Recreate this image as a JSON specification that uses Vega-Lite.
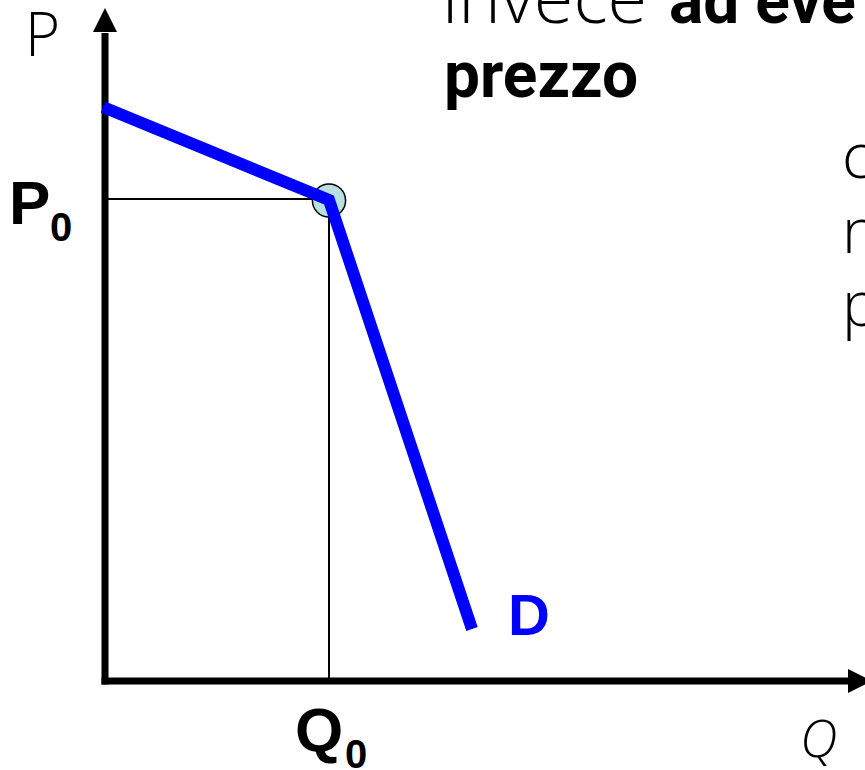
{
  "$schema": "https://vega.github.io/schema/vega-lite/v6.json",
  "width": 865,
  "height": 770,
  "autosize": {"type": "none"},
  "padding": 0,
  "background": "white",
  "config": {"view": {"stroke": null}},
  "datasets": {
    "demand": [
      {"step": 1, "q": -0.2, "p": 57.4},
      {"step": 2, "q": 22.4, "p": 48.1},
      {"step": 3, "q": 36.7, "p": 5.2}
    ],
    "guides": [
      {"q": 0, "p": 48.2, "q2": 22.4, "p2": 48.2},
      {"q": 22.4, "p": 0, "q2": 22.4, "p2": 48.2}
    ],
    "axes": [
      {"q": -0.35, "p": 0, "q2": 74.5, "p2": 0},
      {"q": 0, "p": -0.35, "q2": 0, "p2": 64.8}
    ],
    "yArrow": [{"q": 0, "p": 66.1}],
    "xArrow": [{"q": 75.5, "p": 0}],
    "equilibrium": [{"q": 22.4, "p": 48.05}],
    "labels": [
      {"text": "P", "q": -8.0, "p": 62.5, "role": "axisName"},
      {"text": "Q", "q": 69.5, "p": -7.6, "role": "axisNameItalic"},
      {"text": "P", "q": -9.6, "p": 45.7, "role": "eq"},
      {"text": "Q", "q": 19.0, "p": -7.0, "role": "eq"},
      {"text": "0", "q": -5.5, "p": 44.0, "role": "sub"},
      {"text": "0", "q": 24.0, "p": -8.7, "role": "sub"},
      {"text": "D", "q": 40.3, "p": 4.6, "role": "curve"},
      {"text": "invece", "q": 33.7, "p": 65.8, "role": "body"},
      {"text": "ad eve", "q": 56.4, "p": 65.8, "role": "bodyBold"},
      {"text": "prezzo", "q": 33.9, "p": 58.4, "role": "bodyBold"},
      {"text": "c", "q": 73.7, "p": 50.3, "role": "side"},
      {"text": "n", "q": 73.7, "p": 42.8, "role": "side"},
      {"text": "p", "q": 73.7, "p": 35.5, "role": "side"}
    ]
  },
  "encoding": {
    "x": {"field": "q", "type": "quantitative", "scale": {"domain": [-10.5, 76], "nice": false, "zero": false}, "axis": null},
    "y": {"field": "p", "type": "quantitative", "scale": {"domain": [-8.9, 68.1], "nice": false, "zero": false}, "axis": null}
  },
  "layer": [
    {
      "data": {"name": "guides"},
      "mark": {"type": "rule", "color": "black", "strokeWidth": 2},
      "encoding": {"x2": {"field": "q2"}, "y2": {"field": "p2"}}
    },
    {
      "data": {"name": "equilibrium"},
      "mark": {"type": "point", "shape": "circle", "filled": true, "fill": "#B8E0E0", "stroke": "black", "strokeWidth": 1.5, "size": 1100, "opacity": 1}
    },
    {
      "data": {"name": "axes"},
      "mark": {"type": "rule", "color": "black", "strokeWidth": 7},
      "encoding": {"x2": {"field": "q2"}, "y2": {"field": "p2"}}
    },
    {
      "data": {"name": "yArrow"},
      "mark": {"type": "point", "shape": "M-1,1L1,1L0,-1Z", "filled": true, "color": "black", "size": 576, "opacity": 1}
    },
    {
      "data": {"name": "xArrow"},
      "mark": {"type": "point", "shape": "M-1,-1L1,0L-1,1Z", "filled": true, "color": "black", "size": 576, "opacity": 1}
    },
    {
      "data": {"name": "demand"},
      "mark": {"type": "line", "color": "#0000FF", "strokeWidth": 12, "strokeJoin": "miter", "strokeCap": "butt"},
      "encoding": {"order": {"field": "step", "type": "quantitative"}}
    },
    {
      "data": {"name": "labels"},
      "transform": [{"filter": "datum.role === 'axisName'"}],
      "mark": {"type": "text", "align": "left", "baseline": "alphabetic", "font": "Open Sans", "fontWeight": 300, "fontSize": 60, "color": "black"},
      "encoding": {"text": {"field": "text"}}
    },
    {
      "data": {"name": "labels"},
      "transform": [{"filter": "datum.role === 'axisNameItalic'"}],
      "mark": {"type": "text", "align": "left", "baseline": "alphabetic", "font": "Open Sans", "fontWeight": 300, "fontStyle": "italic", "fontSize": 52, "color": "black"},
      "encoding": {"text": {"field": "text"}}
    },
    {
      "data": {"name": "labels"},
      "transform": [{"filter": "datum.role === 'eq'"}],
      "mark": {"type": "text", "align": "left", "baseline": "alphabetic", "font": "Liberation Sans", "fontWeight": "bold", "fontSize": 62, "color": "black"},
      "encoding": {"text": {"field": "text"}}
    },
    {
      "data": {"name": "labels"},
      "transform": [{"filter": "datum.role === 'sub'"}],
      "mark": {"type": "text", "align": "left", "baseline": "alphabetic", "font": "Liberation Sans", "fontWeight": "bold", "fontSize": 40, "color": "black"},
      "encoding": {"text": {"field": "text"}}
    },
    {
      "data": {"name": "labels"},
      "transform": [{"filter": "datum.role === 'curve'"}],
      "mark": {"type": "text", "align": "left", "baseline": "alphabetic", "font": "Liberation Sans", "fontWeight": "bold", "fontSize": 58, "color": "#0000FF"},
      "encoding": {"text": {"field": "text"}}
    },
    {
      "data": {"name": "labels"},
      "transform": [{"filter": "datum.role === 'body'"}],
      "mark": {"type": "text", "align": "left", "baseline": "alphabetic", "font": "Open Sans", "fontWeight": 300, "fontSize": 72, "color": "black"},
      "encoding": {"text": {"field": "text"}}
    },
    {
      "data": {"name": "labels"},
      "transform": [{"filter": "datum.role === 'bodyBold'"}],
      "mark": {"type": "text", "align": "left", "baseline": "alphabetic", "font": "Roboto", "fontWeight": "bold", "fontSize": 64, "color": "black"},
      "encoding": {"text": {"field": "text"}}
    },
    {
      "data": {"name": "labels"},
      "transform": [{"filter": "datum.role === 'side'"}],
      "mark": {"type": "text", "align": "left", "baseline": "alphabetic", "font": "Open Sans", "fontWeight": 300, "fontSize": 62, "color": "black"},
      "encoding": {"text": {"field": "text"}}
    }
  ]
}
